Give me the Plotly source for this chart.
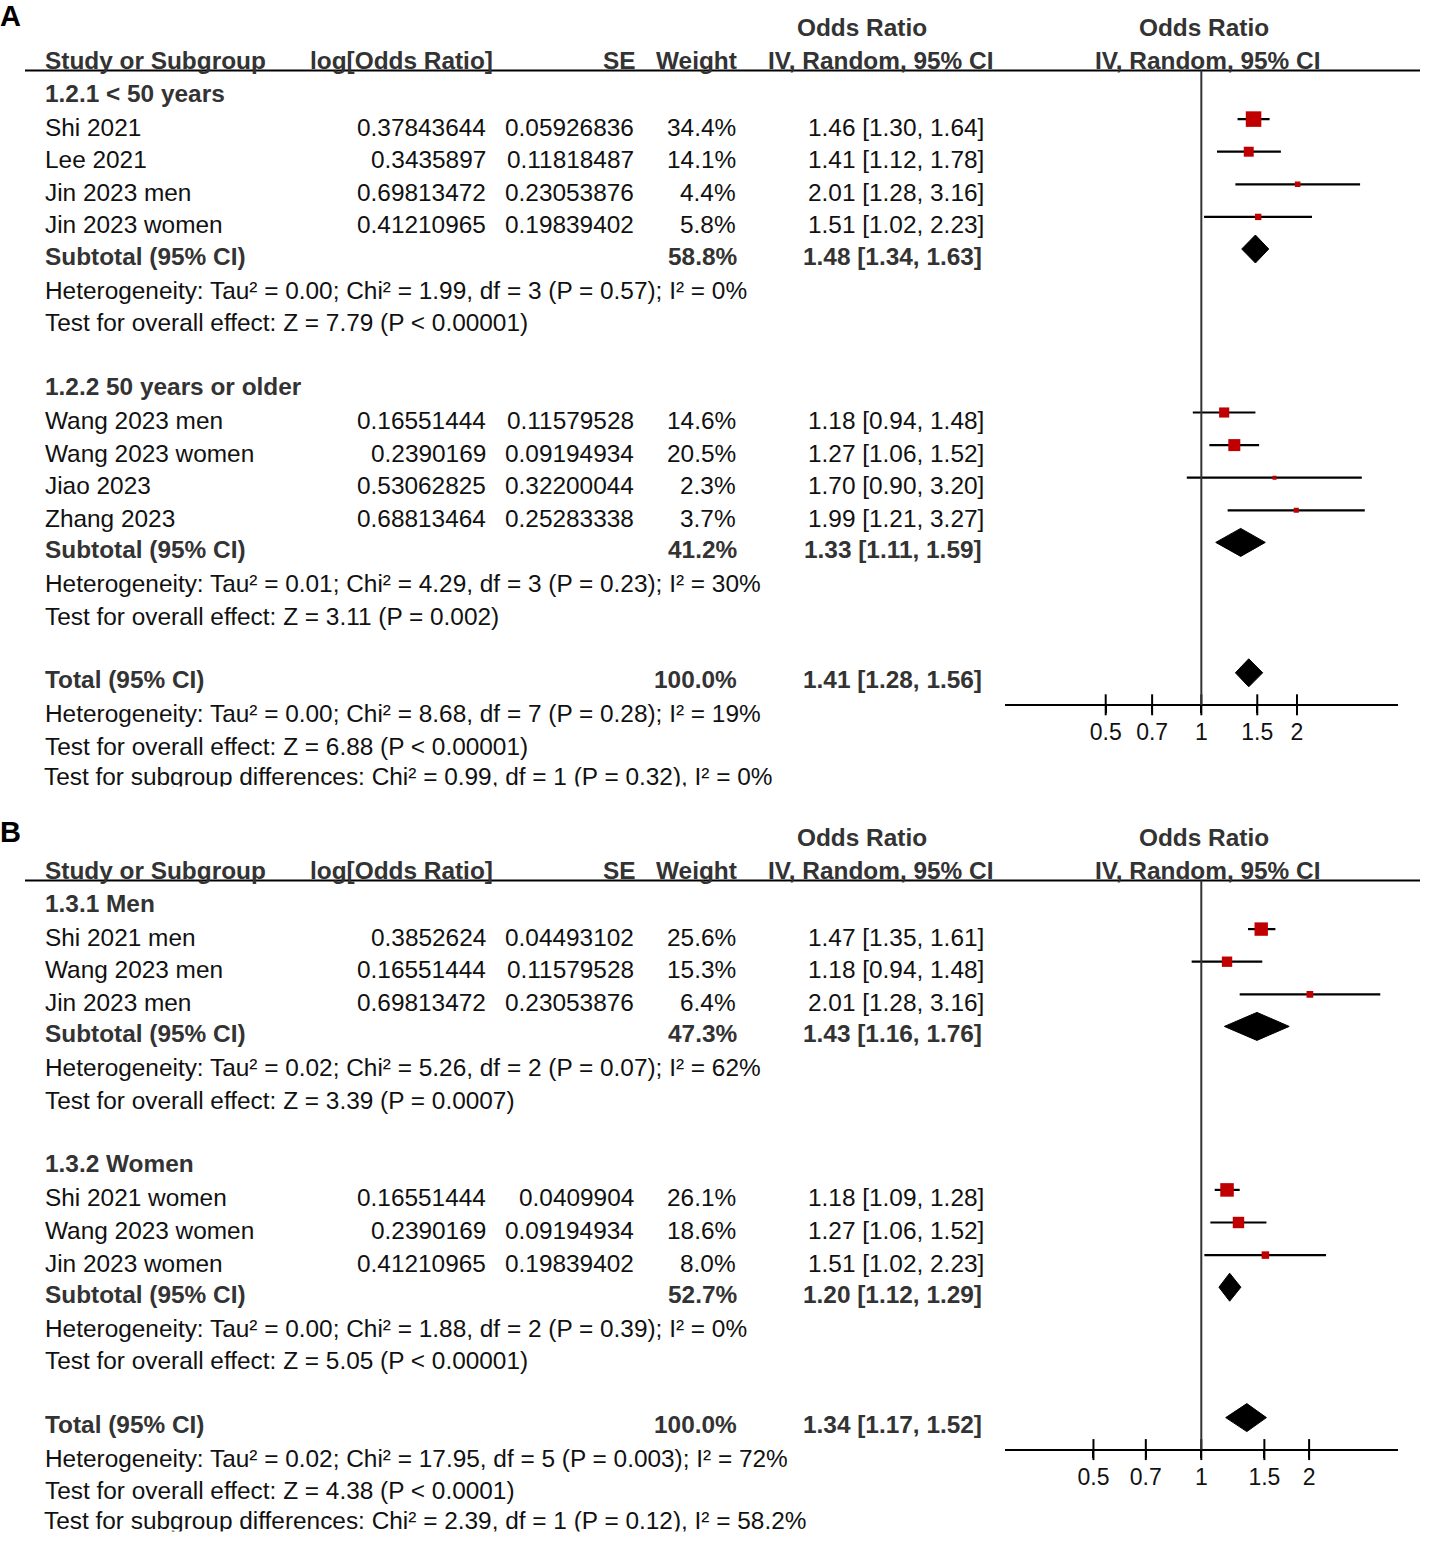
import math
import plotly.graph_objects as go

W, H = 1432, 1541
FONT = "Liberation Sans, Arial, Helvetica, sans-serif"
FS = 24.4
LINE = 32.6
RED = "#c00000"

# ---------------- Panel A data ----------------
A_groups = ["1.2.1 < 50 years", "1.2.2 50 years or older"]
A_study = ["Shi 2021", "Lee 2021", "Jin 2023 men", "Jin 2023 women",
           "Wang 2023 men", "Wang 2023 women", "Jiao 2023", "Zhang 2023"]
A_group_of = [0, 0, 0, 0, 1, 1, 1, 1]
A_logor = [0.37843644, 0.3435897, 0.69813472, 0.41210965,
           0.16551444, 0.2390169, 0.53062825, 0.68813464]
A_se = [0.05926836, 0.11818487, 0.23053876, 0.19839402,
        0.11579528, 0.09194934, 0.32200044, 0.25283338]
A_weight = [34.4, 14.1, 4.4, 5.8, 14.6, 20.5, 2.3, 3.7]
A_or = [1.46, 1.41, 2.01, 1.51, 1.18, 1.27, 1.70, 1.99]
A_lo = [1.30, 1.12, 1.28, 1.02, 0.94, 1.06, 0.90, 1.21]
A_hi = [1.64, 1.78, 3.16, 2.23, 1.48, 1.52, 3.20, 3.27]
A_sub_weight = [58.8, 41.2]
A_sub_or = [1.48, 1.33]
A_sub_lo = [1.34, 1.11]
A_sub_hi = [1.63, 1.59]
A_sub_het = ["Heterogeneity: Tau² = 0.00; Chi² = 1.99, df = 3 (P = 0.57); I² = 0%",
             "Heterogeneity: Tau² = 0.01; Chi² = 4.29, df = 3 (P = 0.23); I² = 30%"]
A_sub_test = ["Test for overall effect: Z = 7.79 (P < 0.00001)",
              "Test for overall effect: Z = 3.11 (P = 0.002)"]
A_tot_weight = 100.0
A_tot_or = 1.41
A_tot_lo = 1.28
A_tot_hi = 1.56
A_tot_notes = ["Heterogeneity: Tau² = 0.00; Chi² = 8.68, df = 7 (P = 0.28); I² = 19%",
               "Test for overall effect: Z = 6.88 (P < 0.00001)",
               "Test for subgroup differences: Chi² = 0.99, df = 1 (P = 0.32), I² = 0%"]

# ---------------- Panel B data ----------------
B_groups = ["1.3.1 Men", "1.3.2 Women"]
B_study = ["Shi 2021 men", "Wang 2023 men", "Jin 2023 men",
           "Shi 2021 women", "Wang 2023 women", "Jin 2023 women"]
B_group_of = [0, 0, 0, 1, 1, 1]
B_logor = [0.3852624, 0.16551444, 0.69813472, 0.16551444, 0.2390169, 0.41210965]
B_se = [0.04493102, 0.11579528, 0.23053876, 0.0409904, 0.09194934, 0.19839402]
B_weight = [25.6, 15.3, 6.4, 26.1, 18.6, 8.0]
B_or = [1.47, 1.18, 2.01, 1.18, 1.27, 1.51]
B_lo = [1.35, 0.94, 1.28, 1.09, 1.06, 1.02]
B_hi = [1.61, 1.48, 3.16, 1.28, 1.52, 2.23]
B_sub_weight = [47.3, 52.7]
B_sub_or = [1.43, 1.20]
B_sub_lo = [1.16, 1.12]
B_sub_hi = [1.76, 1.29]
B_sub_het = ["Heterogeneity: Tau² = 0.02; Chi² = 5.26, df = 2 (P = 0.07); I² = 62%",
             "Heterogeneity: Tau² = 0.00; Chi² = 1.88, df = 2 (P = 0.39); I² = 0%"]
B_sub_test = ["Test for overall effect: Z = 3.39 (P = 0.0007)",
              "Test for overall effect: Z = 5.05 (P < 0.00001)"]
B_tot_weight = 100.0
B_tot_or = 1.34
B_tot_lo = 1.17
B_tot_hi = 1.52
B_tot_notes = ["Heterogeneity: Tau² = 0.02; Chi² = 17.95, df = 5 (P = 0.003); I² = 72%",
               "Test for overall effect: Z = 4.38 (P < 0.0001)",
               "Test for subgroup differences: Chi² = 2.39, df = 1 (P = 0.12), I² = 58.2%"]

TICK_VALS = [0.5, 0.7, 1, 1.5, 2]
TICK_TEXT = ["0.5", "0.7", "1", "1.5", "2"]

fig = go.Figure()
annotations = []
shapes = []


def ann(text, xpx, ypx, anchor="left", bold=False, size=FS, color=None):
    if color is None:
        color = "#333333" if bold else "#111111"
    annotations.append(dict(
        text=("<b>%s</b>" % text) if bold else text,
        x=xpx / W, xref="paper", y=ypx, yref="y",
        xanchor=anchor, yanchor="middle", showarrow=False,
        borderpad=0, borderwidth=0,
        font=dict(family=FONT, size=size, color=color)))


def fmt_ci(o, l, h):
    return "%.2f [%.2f, %.2f]" % (o, l, h)


def draw_panel(label, label_y, base, xa, groups, group_of, study, logor, se, weight,
               orv, lo, hi, sub_w, sub_or, sub_lo, sub_hi, sub_het, sub_test,
               tot_w, tot_or, tot_lo, tot_hi, tot_notes):
    def ly(i):
        return base + (i - 2) * LINE

    ann(label, 0, label_y, "left", bold=True, size=29, color="#000000")
    ann("Odds Ratio", 862, ly(0), "center", bold=True)
    ann("Odds Ratio", 1204, ly(0), "center", bold=True)
    ann("Study or Subgroup", 45, ly(1), "left", bold=True)
    ann("log[Odds Ratio]", 310, ly(1), "left", bold=True)
    ann("SE", 636, ly(1), "right", bold=True)
    ann("Weight", 737, ly(1), "right", bold=True)
    ann("IV, Random, 95% CI", 880, ly(1), "center", bold=True)
    ann("IV, Random, 95% CI", 1207, ly(1), "center", bold=True)

    rule_y = ly(1) + 10
    shapes.append(dict(type="line", xref="paper", yref="y", x0=25 / W, x1=1420 / W,
                       y0=rule_y, y1=rule_y, line=dict(color="black", width=2)))

    i = 2
    st_y = [0.0] * len(study)
    sub_y = []
    for g, title in enumerate(groups):
        ann(title, 45, ly(i), "left", bold=True)
        i += 1
        for k in range(len(study)):
            if group_of[k] != g:
                continue
            y = ly(i) + 1.5
            ann(study[k], 45, y, "left")
            ann(str(logor[k]), 486, y, "right")
            ann(str(se[k]), 634, y, "right")
            ann("%.1f%%" % weight[k], 736, y, "right")
            ann(fmt_ci(orv[k], lo[k], hi[k]), 984, y, "right")
            st_y[k] = y - 8
            i += 1
        y = ly(i)
        ann("Subtotal (95% CI)", 45, y, "left", bold=True)
        ann("%.1f%%" % sub_w[g], 737, y, "right", bold=True)
        ann(fmt_ci(sub_or[g], sub_lo[g], sub_hi[g]), 982, y, "right", bold=True)
        sub_y.append(y - 7)
        i += 1
        ann(sub_het[g], 45, ly(i) + 1.5, "left")
        i += 1
        ann(sub_test[g], 45, ly(i) + 1.5, "left")
        i += 2
    y = ly(i)
    ann("Total (95% CI)", 45, y, "left", bold=True)
    ann("%.1f%%" % tot_w, 737, y, "right", bold=True)
    ann(fmt_ci(tot_or, tot_lo, tot_hi), 982, y, "right", bold=True)
    tot_y = y - 7
    axis_y = y + 25
    ann(tot_notes[0], 45, ly(i + 1) + 1, "left")
    ann(tot_notes[1], 45, ly(i + 2) + 1, "left")
    last_y = ly(i + 3) + 1
    # last line as a text trace so that it can be cut off like the reference
    fig.add_trace(go.Scatter(x=[44], y=[last_y], xaxis="x3", yaxis="y", mode="text",
                             text=[tot_notes[2]], textposition="middle right",
                             textfont=dict(family=FONT, size=FS, color="#111111"),
                             hoverinfo="skip", cliponaxis=False))
    shapes.append(dict(type="rect", xref="paper", yref="y", x0=0, x1=0.7,
                       y0=last_y + 8, y1=last_y + 30, fillcolor="white",
                       line=dict(width=0), layer="above"))

    # null line
    shapes.append(dict(type="line", xref=xa, yref="y", x0=1, x1=1, y0=rule_y, y1=axis_y,
                       line=dict(color="#333333", width=2)))

    # CI whiskers
    cx, cy = [], []
    for k in range(len(study)):
        cx += [lo[k], hi[k], None]
        cy += [st_y[k], st_y[k], None]
    fig.add_trace(go.Scatter(x=cx, y=cy, xaxis=xa, yaxis="y", mode="lines",
                             line=dict(color="black", width=2.2), hoverinfo="skip"))
    # weighted squares
    fig.add_trace(go.Scatter(x=orv, y=st_y, xaxis=xa, yaxis="y", mode="markers",
                             marker=dict(symbol="square", color=RED, opacity=1,
                                         size=[2.65 * math.sqrt(w) for w in weight],
                                         line=dict(width=0)),
                             hoverinfo="skip"))
    # diamonds
    dia = list(zip(sub_or, sub_lo, sub_hi, sub_y)) + [(tot_or, tot_lo, tot_hi, tot_y)]
    for (o, l, h, yy) in dia:
        fig.add_trace(go.Scatter(x=[l, o, h, o, l], y=[yy, yy - 14, yy, yy + 14, yy],
                                 xaxis=xa, yaxis="y", mode="lines", fill="toself",
                                 fillcolor="black", line=dict(color="black", width=1),
                                 hoverinfo="skip"))
    # upward half of crossing ticks
    fig.add_trace(go.Scatter(x=TICK_VALS, y=[axis_y] * len(TICK_VALS), xaxis=xa, yaxis="y",
                             mode="markers",
                             marker=dict(symbol="line-ns", size=15,
                                         line=dict(width=2, color="black")),
                             hoverinfo="skip", cliponaxis=False))
    return axis_y


axA = draw_panel("A", 16, 93, "x", A_groups, A_group_of, A_study, A_logor, A_se, A_weight,
                 A_or, A_lo, A_hi, A_sub_weight, A_sub_or, A_sub_lo, A_sub_hi, A_sub_het,
                 A_sub_test, A_tot_weight, A_tot_or, A_tot_lo, A_tot_hi, A_tot_notes)
axB = draw_panel("B", 832, 903, "x2", B_groups, B_group_of, B_study, B_logor, B_se, B_weight,
                 B_or, B_lo, B_hi, B_sub_weight, B_sub_or, B_sub_lo, B_sub_hi, B_sub_het,
                 B_sub_test, B_tot_weight, B_tot_or, B_tot_lo, B_tot_hi, B_tot_notes)

common_x = dict(type="log", showgrid=False, zeroline=False, showline=True,
                linecolor="black", linewidth=2, ticks="outside", ticklen=7,
                tickwidth=2, tickcolor="black", tickvals=TICK_VALS, ticktext=TICK_TEXT,
                tickfont=dict(family=FONT, size=23, color="#111111"),
                domain=[1005 / W, 1398.3 / W], anchor="free", fixedrange=True)

fig.update_layout(
    width=W, height=H,
    margin=dict(l=0, r=0, t=0, b=0),
    paper_bgcolor="white", plot_bgcolor="rgba(0,0,0,0)",
    showlegend=False, hovermode=False,
    xaxis=dict(common_x, range=[-0.618, 0.620], position=1 - axA / H),
    xaxis2=dict(common_x, range=[-0.548, 0.550], position=1 - axB / H),
    xaxis3=dict(range=[0, W], domain=[0, 1], visible=False, anchor="y", fixedrange=True),
    yaxis=dict(range=[H, 0], domain=[0, 1], visible=False, anchor="x3", fixedrange=True),
    annotations=annotations,
    shapes=shapes,
)

fig.write_html("out.html", config={"displayModeBar": False},
               post_script="document.body.style.margin='0';document.body.style.overflow='hidden';")
